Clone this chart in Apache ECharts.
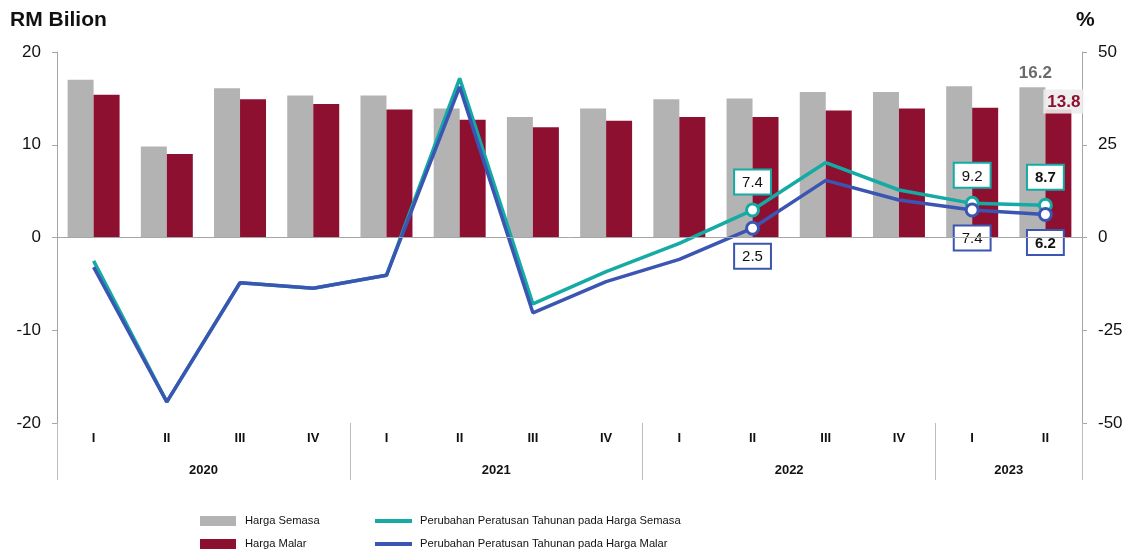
<!DOCTYPE html>
<html>
<head>
<meta charset="utf-8">
<script src="https://cdn.jsdelivr.net/npm/echarts@6/dist/echarts.min.js"></script>
<style>
  html,body{margin:0;padding:0;background:#fff;}
  #chart{width:1130px;height:555px;}
</style>
</head>
<body>
<div id="chart"></div>
<script>
// data
var quarters = ['I','II','III','IV','I','II','III','IV','I','II','III','IV','I','II'];
var years = ['2020','2021','2022','2023'];
var quartersPerYear = [4,4,4,2];
var hargaSemasa = [17.0, 9.8, 16.1, 15.3, 15.3, 13.9, 13.0, 13.9, 14.9, 15.0, 15.7, 15.7, 16.3, 16.2];
var hargaMalar  = [15.4, 9.0, 14.9, 14.4, 13.8, 12.7, 11.9, 12.6, 13.0, 13.0, 13.7, 13.9, 14.0, 13.8];
var ubahSemasa  = [-6.3, -44.3, -12.2, -13.7, -10.2, 42.9, -17.9, -9.2, -1.6, 7.4, 20.2, 12.8, 9.2, 8.7];
var ubahMalar   = [-8.0, -44.3, -12.2, -13.7, -10.2, 40.6, -20.3, -11.9, -5.9, 2.5, 15.4, 10.1, 7.4, 6.2];
var markedIdx = [9, 12, 13];   // titik yang berlabel
var lastIdx = quarters.length - 1;

var FONT = '"Liberation Sans", Arial, sans-serif';
var GRAY = '#b3b3b3', MAROON = '#8e1030', TEAL = '#14aba5', BLUE = '#3b55b3';

// sempadan dan titik tengah tahun
var yearTicks = [0], yearCenters = [], acc = 0;
quartersPerYear.forEach(function(n){
    yearCenters.push(acc + n / 2);
    acc += n;
    yearTicks.push(acc);
});

function barData(values, labelCfg){
    return values.map(function(v, i){
        if(i === lastIdx){
            return {value: v, label: labelCfg};
        }
        return v;
    });
}

function lineData(values, color, pos){
    return values.map(function(v, i){
        if(markedIdx.indexOf(i) < 0) return v;
        return {
            value: v,
            symbol: 'circle',
            symbolSize: 12,
            itemStyle: {color: '#fff', borderColor: color, borderWidth: 3},
            label: {
                show: true,
                position: pos,
                distance: 9,
                fontFamily: FONT,
                fontSize: 15,
                fontWeight: i === lastIdx ? 'bold' : 'normal',
                color: '#111',
                backgroundColor: '#fff',
                borderColor: color,
                borderWidth: 2,
                padding: [5, 7, 3, 7]
            }
        };
    });
}

var legendText = {fontFamily: FONT, fontSize: 11.2, lineHeight: 14, color: '#111'};

var chart = echarts.init(document.getElementById('chart'));
chart.setOption({
    animation: false,
    textStyle: {fontFamily: FONT},
    grid: {left: 57, right: 48, top: 52, bottom: 132, containLabel: false},
    graphic: [
        {type: 'text', left: 10, top: 10, style: {text: 'RM Bilion', font: 'bold 21px ' + FONT, fill: '#111'}},
        {type: 'text', left: 1076, top: 10, style: {text: '%', font: 'bold 21px ' + FONT, fill: '#111'}}
    ],
    legend: [
        {
            orient: 'vertical', left: 200, top: 514, padding: 0,
            itemWidth: 36, itemHeight: 10, itemGap: 9,
            icon: 'rect',
            textStyle: Object.assign({padding: [0, 0, 0, 4]}, legendText),
            data: ['Harga Semasa', 'Harga Malar']
        },
        {
            orient: 'vertical', left: 375, top: 514, padding: 0,
            itemWidth: 37, itemHeight: 4, itemGap: 9,
            icon: 'rect',
            textStyle: Object.assign({padding: [0, 0, 0, 3]}, legendText),
            data: ['Perubahan Peratusan Tahunan pada Harga Semasa', 'Perubahan Peratusan Tahunan pada Harga Malar']
        }
    ],
    xAxis: [
        {
            type: 'category',
            data: quarters,
            axisLine: {show: false, onZero: false},
            axisTick: {show: false},
            axisLabel: {margin: 9, fontSize: 13, fontWeight: 'bold', color: '#111'}
        },
        {
            type: 'value',
            min: 0, max: quarters.length,
            position: 'bottom',
            axisLine: {show: false, onZero: false},
            splitLine: {show: false},
            axisTick: {show: true, customValues: yearTicks, length: 57, lineStyle: {color: '#bdbdbd'}},
            axisLabel: {
                customValues: yearCenters,
                margin: 41, fontSize: 13, fontWeight: 'bold', color: '#111',
                formatter: function(v){ return years[yearCenters.indexOf(v)]; }
            }
        }
    ],
    yAxis: [
        {
            type: 'value', min: -20, max: 20, interval: 10,
            axisLine: {show: true, lineStyle: {color: '#a6a6a6'}},
            axisTick: {show: true, length: 5, lineStyle: {color: '#a6a6a6'}},
            splitLine: {show: false},
            axisLabel: {margin: 16, fontSize: 17, color: '#111'}
        },
        {
            type: 'value', min: -50, max: 50, interval: 25,
            position: 'right',
            axisLine: {show: true, lineStyle: {color: '#a6a6a6'}},
            axisTick: {show: true, length: 5, lineStyle: {color: '#a6a6a6'}},
            splitLine: {show: false},
            axisLabel: {margin: 16, fontSize: 17, color: '#111'}
        }
    ],
    series: [
        {
            name: 'Harga Semasa',
            type: 'bar',
            barGap: '0%',
            barCategoryGap: '29%',
            itemStyle: {color: GRAY},
            data: barData(hargaSemasa, {
                show: true, position: 'top', distance: 5, offset: [3, 0],
                fontSize: 17, fontWeight: 'bold', color: '#6b6b6b'
            }),
            markLine: {
                silent: true,
                symbol: 'none',
                label: {show: false},
                lineStyle: {color: '#a6a6a6', width: 1, type: 'solid'},
                data: [{yAxis: 0}]
            }
        },
        {
            name: 'Harga Malar',
            type: 'bar',
            itemStyle: {color: MAROON},
            data: barData(hargaMalar, {
                show: true, position: 'top', distance: 0, offset: [5, 4],
                fontSize: 17, fontWeight: 'bold', color: MAROON,
                backgroundColor: 'rgba(236,236,236,0.9)', padding: [4, 3, 3, 4]
            })
        },
        {
            name: 'Perubahan Peratusan Tahunan pada Harga Semasa',
            type: 'line',
            yAxisIndex: 1,
            symbol: 'none',
            showSymbol: true,
            lineStyle: {color: TEAL, width: 3.5},
            itemStyle: {color: TEAL},
            z: 3,
            data: lineData(ubahSemasa, TEAL, 'top')
        },
        {
            name: 'Perubahan Peratusan Tahunan pada Harga Malar',
            type: 'line',
            yAxisIndex: 1,
            symbol: 'none',
            showSymbol: true,
            lineStyle: {color: BLUE, width: 3.5},
            itemStyle: {color: BLUE},
            z: 4,
            data: lineData(ubahMalar, BLUE, 'bottom')
        }
    ]
});
</script>
</body>
</html>
